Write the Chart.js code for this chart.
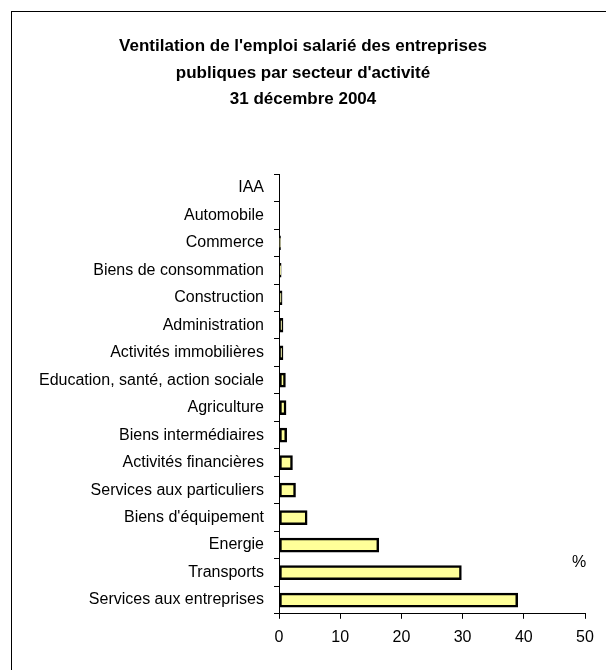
<!DOCTYPE html>
<html>
<head>
<meta charset="utf-8">
<script src="https://cdn.jsdelivr.net/npm/chart.js@4"></script>
<style>
  html,body{margin:0;padding:0;background:#fff;}
  #wrap{position:relative;width:606px;height:670px;overflow:hidden;}
  #frame{position:absolute;left:11px;top:11px;width:700px;height:700px;border-left:1.5px solid #000;border-top:1.5px solid #000;}
  #c{position:absolute;left:0;top:0;}
  #pct{position:absolute;left:572px;top:553px;font:16px Arial,'Liberation Sans',sans-serif;color:#000;}
</style>
</head>
<body>
<div id="wrap">
  <div id="frame"></div>
  <canvas id="c" width="606" height="670"></canvas>
  <span id="pct">%</span>
</div>
<script>
// categories, top to bottom
const secteurs = ['IAA','Automobile','Commerce','Biens de consommation','Construction','Administration',
  'Activités immobilières','Education, santé, action sociale','Agriculture','Biens intermédiaires',
  'Activités financières','Services aux particuliers',"Biens d'équipement",'Energie','Transports',
  'Services aux entreprises'];
const parts = [0, 0, 0.25, 0.35, 0.5, 0.65, 0.65, 1.05, 1.15, 1.25, 2.2, 2.7, 4.6, 16.3, 29.8, 39.0];
const titre = ["Ventilation de l'emploi salarié des entreprises", "publiques par secteur d'activité", '31 décembre 2004'];
const xMin = 0, xMax = 50, xStep = 10;

const font = "Arial, 'Liberation Sans', sans-serif";

new Chart(document.getElementById('c'), {
  type: 'bar',
  data: {
    labels: secteurs,
    datasets: [{
      data: parts,
      backgroundColor: '#FFFF99',
      borderColor: '#000',
      borderWidth: 2.5,
      borderSkipped: false,
      barThickness: 14
    }]
  },
  options: {
    indexAxis: 'y',
    responsive: false,
    animation: false,
    layout: { padding: { left: 21, right: 21, top: 20, bottom: 14 } },
    plugins: {
      legend: { display: false },
      tooltip: { enabled: false },
      title: {
        display: true,
        text: titre,
        color: '#000',
        font: { family: font, size: 17, weight: 'bold', lineHeight: 1.57 },
        padding: { top: 13, bottom: 61 }
      }
    },
    scales: {
      x: {
        min: xMin, max: xMax,
        ticks: { stepSize: xStep, color: '#000', font: { family: font, size: 16 }, padding: 9 },
        grid: { drawOnChartArea: false, tickLength: 5, color: '#000' },
        border: { display: true, color: '#000', width: 1 }
      },
      y: {
        ticks: { color: '#000', font: { family: font, size: 16 }, padding: 10, autoSkip: false },
        grid: { drawOnChartArea: false, tickLength: 5, color: '#000', offset: true },
        border: { display: true, color: '#000', width: 1 },
        afterFit: s => { s.width = 258; }
      }
    }
  }
});
</script>
</body>
</html>
